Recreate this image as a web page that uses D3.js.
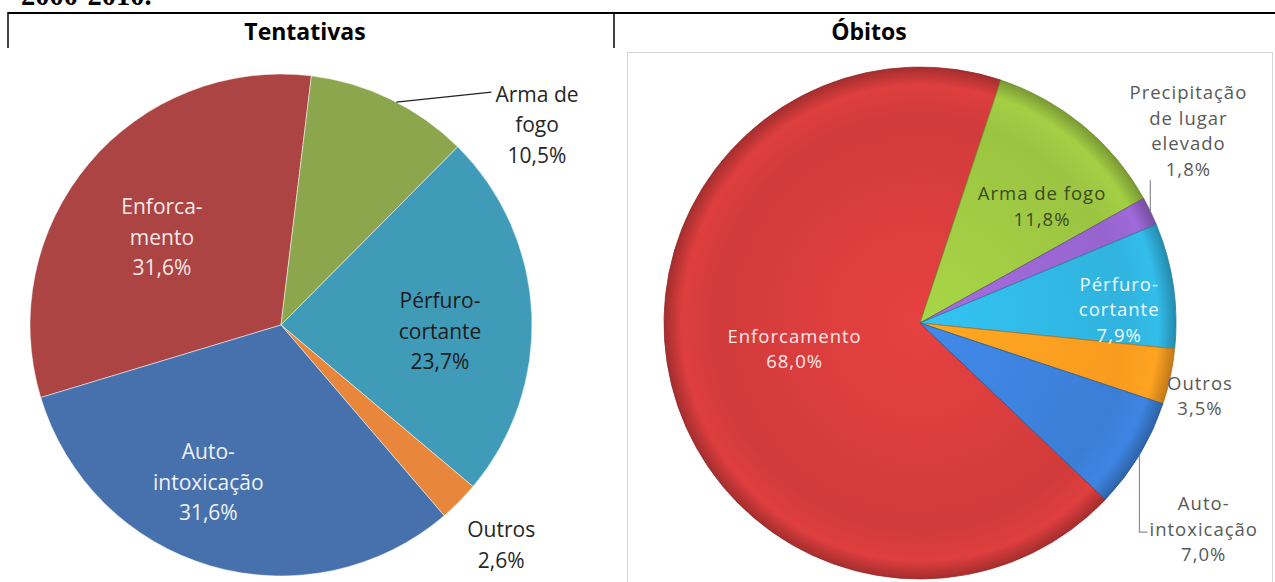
<!DOCTYPE html>
<html>
<head>
<meta charset="utf-8">
<script src="https://cdn.jsdelivr.net/npm/d3@7"></script>
<style>
  body { margin: 0; background: #fff; }
  svg { display: block; }
</style>
</head>
<body>
<script>
// SVG size
var svgWidth = 1275;
var svgHeight = 582;

// Tentativas
var tentCategories = ["Enforcamento", "Arma de fogo", "Pérfuro-cortante", "Outros", "Auto-intoxicação"];
var tentValues = [31.6, 10.5, 23.7, 2.6, 31.6];
var tentLabels = [["Enforca-", "mento"], ["Arma de", "fogo"], ["Pérfuro-", "cortante"], ["Outros"], ["Auto-", "intoxicação"]];

// Óbitos
var obitCategories = ["Enforcamento", "Arma de fogo", "Precipitação de lugar elevado", "Pérfuro-cortante", "Outros", "Auto-intoxicação"];
var obitValues = [68.0, 11.8, 1.8, 7.9, 3.5, 7.0];
var obitLabels = [["Enforcamento"], ["Arma de fogo"], ["Precipitação", "de lugar", "elevado"], ["Pérfuro-", "cortante"], ["Outros"], ["Auto-", "intoxicação"]];

var fmt = function(v) { return d3.format(".1f")(v).replace(".", ",") + "%"; };
var deg = Math.PI / 180;
var labelFont = "'Open Sans', 'DejaVu Sans', sans-serif";

var svg = d3.select("body")
            .append("svg")
            .attr("width", svgWidth)
            .attr("height", svgHeight);

// caption cut at the top of the page (as in the scanned page)
svg.append("text")
   .attr("x", 21)
   .attr("y", 5)
   .style("font-family", "'Liberation Serif', serif")
   .style("font-weight", "bold")
   .style("font-size", "28.5px")
   .text("2000-2010.");

// table lines
svg.append("line").attr("x1", 8).attr("x2", 1275).attr("y1", 13).attr("y2", 13)
   .attr("stroke", "#000").attr("stroke-width", 2);
svg.append("line").attr("x1", 8).attr("x2", 8).attr("y1", 12).attr("y2", 48)
   .attr("stroke", "#000").attr("stroke-width", 1.5);
svg.append("line").attr("x1", 614).attr("x2", 614).attr("y1", 12).attr("y2", 48)
   .attr("stroke", "#000").attr("stroke-width", 1.5);

// headings
svg.append("text").attr("x", 305).attr("y", 40)
   .attr("text-anchor", "middle")
   .style("font-family", labelFont).style("font-weight", "bold").style("font-size", "23px")
   .text("Tentativas");
svg.append("text").attr("x", 869).attr("y", 40)
   .attr("text-anchor", "middle")
   .style("font-family", labelFont).style("font-weight", "bold").style("font-size", "23px")
   .text("Óbitos");

// frame of the right picture
svg.append("rect")
   .attr("x", 627.5).attr("y", 52.5)
   .attr("width", 645).attr("height", 560)
   .attr("fill", "none")
   .attr("stroke", "#d6d6d6");

var defs = svg.append("defs");

function drawPie(opt) {
  var g = svg.append("g").attr("transform", "translate(" + opt.cx + "," + opt.cy + ")");

  var pie = d3.pie().sort(null)
              .startAngle(opt.start * deg)
              .endAngle((opt.start + 360) * deg);
  var arcs = pie(opt.values);
  var arc = d3.arc().innerRadius(0).outerRadius(opt.r);

  arcs.forEach(function(d, i) {
    var fill = opt.colors[i];
    if (opt.bevel) {
      var id = opt.id + "-grad-" + i;
      var c = d3.color(opt.colors[i]);
      var grad = defs.append("radialGradient").attr("id", id)
                     .attr("gradientUnits", "userSpaceOnUse")
                     .attr("cx", 0).attr("cy", 0).attr("r", opt.r);
      grad.append("stop").attr("offset", "0%").attr("stop-color", c.brighter(0.25));
      grad.append("stop").attr("offset", "80%").attr("stop-color", c);
      grad.append("stop").attr("offset", "93%").attr("stop-color", c.brighter(0.15));
      grad.append("stop").attr("offset", "100%").attr("stop-color", c.darker(0.7));
      fill = "url(#" + id + ")";
    }
    g.append("path")
     .attr("d", arc(d))
     .attr("fill", fill)
     .attr("stroke", opt.bevel ? d3.color(opt.colors[i]).darker(0.9) : "#ffffff")
     .attr("stroke-opacity", opt.bevel ? 0.8 : 0.5)
     .attr("stroke-width", 1);
  });

  // labels
  arcs.forEach(function(d, i) {
    var a = (d.startAngle + d.endAngle) / 2 + opt.shift[i] * deg;
    var lr = opt.r * opt.k[i];
    var lx = lr * Math.sin(a);
    var ly = -lr * Math.cos(a);
    var lines = opt.labels[i].concat([fmt(opt.values[i])]);
    var top = ly - (lines.length - 1) / 2 * opt.lh;

    var t = g.append("text")
             .attr("text-anchor", "middle")
             .style("font-family", labelFont)
             .style("font-size", opt.fs + "px")
             .style("letter-spacing", opt.ls + "px")
             .attr("fill", opt.textColors[i]);
    var spans = [];
    lines.forEach(function(line, j) {
      spans.push(t.append("tspan")
                  .attr("x", lx)
                  .attr("y", top + j * opt.lh)
                  .attr("dy", "0.36em")
                  .text(line));
    });

    // leader lines
    var mid = (d.startAngle + d.endAngle) / 2 + opt.leaderShift * deg;
    var sx = opt.r * Math.sin(mid), sy = -opt.r * Math.cos(mid);
    var pts = null;
    if (opt.leader[i] === "side") {
      var w0 = spans[0].node().getComputedTextLength();
      pts = [[sx, sy], [lx - w0 / 2 - 4, top - 2]];
    } else if (opt.leader[i] === "up") {
      pts = [[sx, sy], [sx, top + (lines.length - 1) * opt.lh + opt.lh * 0.45]];
    } else if (opt.leader[i] === "elbow") {
      var w1 = spans[1].node().getComputedTextLength();
      var yl = top + opt.lh + 3;
      pts = [[sx, sy], [sx, yl], [lx - w1 / 2 - 2, yl]];
    }
    if (pts) {
      g.append("path")
       .attr("d", d3.line()(pts))
       .attr("fill", "none")
       .attr("stroke", opt.leaderColor)
       .attr("stroke-width", 1.2);
    }
  });
}

// left pie: Tentativas
drawPie({
  id: "tent",
  cx: 281, cy: 325, r: 251, start: -106.8,
  values: tentValues,
  labels: tentLabels,
  colors: ["#AB4442", "#8BA64C", "#409BB8", "#E8873B", "#4771AD"],
  textColors: ["#f7e9e9", "#262626", "#1c1c1c", "#262626", "#eef1f7"],
  shift: [-3.6, 26.1, 4.75, 0.2, 8.5],
  k: [0.59, 1.295, 0.634, 1.24, 0.69],
  leader: [null, "side", null, null, null],
  leaderShift: 1.5,
  leaderColor: "#222",
  fs: 21, lh: 30.5, ls: 0,
  bevel: false
});

// right pie: Óbitos
drawPie({
  id: "obit",
  cx: 920, cy: 323, r: 256, start: -226.4,
  values: obitValues,
  labels: obitLabels,
  colors: ["#D23B3B", "#9BC441", "#9764CE", "#30B3DE", "#F99B1F", "#3B7ED6"],
  textColors: ["#fde9e9", "#3b4a22", "#595959", "#eef9fd", "#595959", "#595959"],
  shift: [2.4, 6.6, -9.75, 4.6, 2.5, 5],
  k: [0.5, 0.66, 1.29, 0.78, 1.13, 1.37],
  leader: [null, null, "up", null, null, "elbow"],
  leaderShift: 0,
  leaderColor: "#8c8c8c",
  fs: 18.5, lh: 25.5, ls: 1,
  bevel: true
});
</script>
</body>
</html>
